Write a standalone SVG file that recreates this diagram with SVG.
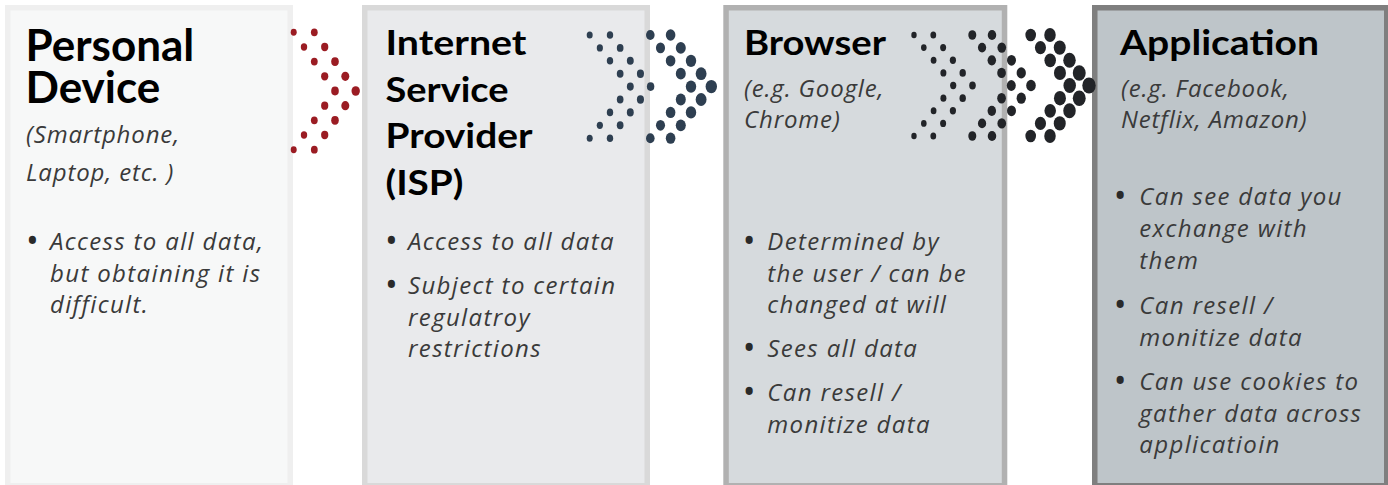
<svg xmlns="http://www.w3.org/2000/svg" width="1388" height="485" viewBox="0 0 1388 485">
<style>
.box{stroke-width:5.5}
.title{font-family:Lato,"Liberation Sans",sans-serif;font-weight:bold;fill:#000;font-size:35px}
.big{font-size:44px}
.body{font-family:"Open Sans","DejaVu Sans",sans-serif;font-style:italic;fill:#3a3a3a;font-size:24px;letter-spacing:1.35px}
.sub{letter-spacing:0.85px}
.bul{font-family:"Open Sans","DejaVu Sans",sans-serif;fill:#2a2a2a;font-size:34px}
.red{fill:#9b1c23}
.slate{fill:#2e3f51}
.blk{fill:#222428}
</style>
<rect width="1388" height="485" fill="#fff"/>
<g id="node-personal-device">
<rect class="box" x="7.75" y="7.75" width="282.5" height="478" fill="#f7f8f8" stroke="#efefef"/>
<text class="title big" x="25.5" y="61">Personal</text>
<text class="title big" x="25.5" y="103">Device</text>
<text class="body sub" x="26" y="143">(Smartphone,</text>
<text class="body sub" x="26" y="181">Laptop, etc. )</text>
<text class="bul" x="26" y="253">•</text>
<text class="body" x="50" y="250">Access to all data,</text>
<text class="body" x="50" y="282">but obtaining it is</text>
<text class="body" x="50" y="313">difficult.</text>
</g>
<g id="node-isp">
<rect class="box" x="364.75" y="7.75" width="282.5" height="478" fill="#e9eaec" stroke="#d9d9d9"/>
<text class="title" x="385.5" y="55" textLength="141" lengthAdjust="spacingAndGlyphs">Internet</text>
<text class="title" x="385.5" y="101.5" textLength="123" lengthAdjust="spacingAndGlyphs">Service</text>
<text class="title" x="385.5" y="148" textLength="147" lengthAdjust="spacingAndGlyphs">Provider</text>
<text class="title" x="385.5" y="194.5" textLength="78" lengthAdjust="spacingAndGlyphs">(ISP)</text>
<text class="bul" x="385" y="253">•</text>
<text class="body" x="408" y="250">Access to all data</text>
<text class="bul" x="385" y="296.5">•</text>
<text class="body" x="408" y="293.5">Subject to certain</text>
<text class="body" x="408" y="325.5">regulatroy</text>
<text class="body" x="408" y="357">restrictions</text>
</g>
<g id="node-browser">
<rect class="box" x="726.05" y="7.75" width="278.5" height="478" fill="#d6dadd" stroke="#b1b1b1"/>
<text class="title" x="744" y="55" textLength="142" lengthAdjust="spacingAndGlyphs">Browser</text>
<text class="body sub" x="744" y="96.7">(e.g. Google,</text>
<text class="body sub" x="744" y="127.5">Chrome)</text>
<text class="bul" x="742.7" y="253">•</text>
<text class="body" x="767.3" y="250">Determined by</text>
<text class="body" x="767.3" y="281.7">the user / can be</text>
<text class="body" x="767.3" y="313.3">changed at will</text>
<text class="bul" x="742.7" y="360.3">•</text>
<text class="body" x="767.3" y="357.3">Sees all data</text>
<text class="bul" x="742.7" y="403.7">•</text>
<text class="body" x="767.3" y="400.7">Can resell /</text>
<text class="body" x="767.3" y="432.7">monitize data</text>
</g>
<g id="node-application">
<rect class="box" x="1094.75" y="7.75" width="292" height="478" fill="#bec5c9" stroke="#7f7f7f"/>
<text class="title" x="1120" y="55" textLength="199" lengthAdjust="spacingAndGlyphs">Application</text>
<text class="body sub" x="1121" y="97">(e.g. Facebook,</text>
<text class="body sub" x="1121" y="128">Netflix, Amazon)</text>
<text class="bul" x="1113.7" y="208">•</text>
<text class="body" x="1139.3" y="205">Can see data you</text>
<text class="body" x="1139.3" y="236.7">exchange with</text>
<text class="body" x="1139.3" y="269">them</text>
<text class="bul" x="1113.7" y="317">•</text>
<text class="body" x="1139.3" y="314">Can resell /</text>
<text class="body" x="1139.3" y="345.7">monitize data</text>
<text class="bul" x="1113.7" y="393">•</text>
<text class="body" x="1139.3" y="390">Can use cookies to</text>
<text class="body" x="1139.3" y="421.7">gather data across</text>
<text class="body" x="1139.3" y="453.3">applicatioin</text>
</g>
<g id="connectors">
<g id="chevron-1" class="red">
<ellipse cx="293.7" cy="32.3" rx="3.0" ry="3.45"/><ellipse cx="314.3" cy="32.3" rx="3.4" ry="3.9"/>
<ellipse cx="304" cy="47" rx="3.2" ry="3.7"/><ellipse cx="324.7" cy="47" rx="3.6" ry="4.15"/>
<ellipse cx="314.3" cy="61.6" rx="3.4" ry="3.9"/><ellipse cx="335" cy="61.6" rx="3.8" ry="4.4"/>
<ellipse cx="324.7" cy="76.3" rx="3.6" ry="4.15"/><ellipse cx="345.3" cy="76.3" rx="4.0" ry="4.6"/>
<ellipse cx="335" cy="91" rx="3.8" ry="4.4"/><ellipse cx="355.7" cy="91" rx="4.2" ry="4.85"/>
<ellipse cx="324.7" cy="105.7" rx="3.6" ry="4.15"/><ellipse cx="345.3" cy="105.7" rx="4.0" ry="4.6"/>
<ellipse cx="314.3" cy="120.3" rx="3.4" ry="3.9"/><ellipse cx="335" cy="120.3" rx="3.8" ry="4.4"/>
<ellipse cx="304" cy="135" rx="3.2" ry="3.7"/><ellipse cx="324.7" cy="135" rx="3.6" ry="4.15"/>
<ellipse cx="293.7" cy="149.7" rx="3.0" ry="3.45"/><ellipse cx="314.3" cy="149.7" rx="3.4" ry="3.9"/>
</g>
<g id="chevron-2" class="slate">
<ellipse cx="589.7" cy="35" rx="3.0" ry="3.55"/><ellipse cx="610" cy="35" rx="3.2" ry="3.8"/>
<ellipse cx="599.85" cy="47.9" rx="3.1" ry="3.65"/><ellipse cx="620.15" cy="47.9" rx="3.35" ry="3.95"/>
<ellipse cx="610" cy="60.8" rx="3.2" ry="3.8"/><ellipse cx="630.3" cy="60.8" rx="3.45" ry="4.05"/>
<ellipse cx="620.15" cy="73.7" rx="3.35" ry="3.95"/><ellipse cx="640.45" cy="73.7" rx="3.55" ry="4.2"/>
<ellipse cx="630.3" cy="86.6" rx="3.45" ry="4.05"/><ellipse cx="650.6" cy="86.6" rx="3.7" ry="4.35"/>
<ellipse cx="620.15" cy="99.5" rx="3.35" ry="3.95"/><ellipse cx="640.45" cy="99.5" rx="3.55" ry="4.2"/>
<ellipse cx="610" cy="112.4" rx="3.2" ry="3.8"/><ellipse cx="630.3" cy="112.4" rx="3.45" ry="4.05"/>
<ellipse cx="599.85" cy="125.3" rx="3.1" ry="3.65"/><ellipse cx="620.15" cy="125.3" rx="3.35" ry="3.95"/>
<ellipse cx="589.7" cy="138.2" rx="3.0" ry="3.55"/><ellipse cx="610" cy="138.2" rx="3.2" ry="3.8"/>
<ellipse cx="650.3" cy="35" rx="4.3" ry="5.05"/><ellipse cx="670.6" cy="35" rx="4.8" ry="5.65"/>
<ellipse cx="660.5" cy="47.9" rx="4.55" ry="5.35"/><ellipse cx="680.8" cy="47.9" rx="5.0" ry="5.9"/>
<ellipse cx="670.6" cy="60.8" rx="4.8" ry="5.65"/><ellipse cx="691" cy="60.8" rx="5.2" ry="6.15"/>
<ellipse cx="680.8" cy="73.7" rx="5.0" ry="5.9"/><ellipse cx="701.1" cy="73.7" rx="5.45" ry="6.4"/>
<ellipse cx="691" cy="86.6" rx="5.2" ry="6.15"/><ellipse cx="711.3" cy="86.6" rx="5.7" ry="6.7"/>
<ellipse cx="680.8" cy="99.5" rx="5.0" ry="5.9"/><ellipse cx="701.1" cy="99.5" rx="5.45" ry="6.4"/>
<ellipse cx="670.6" cy="112.4" rx="4.8" ry="5.65"/><ellipse cx="691" cy="112.4" rx="5.2" ry="6.15"/>
<ellipse cx="660.5" cy="125.3" rx="4.55" ry="5.35"/><ellipse cx="680.8" cy="125.3" rx="5.0" ry="5.9"/>
<ellipse cx="650.3" cy="138.2" rx="4.3" ry="5.05"/><ellipse cx="670.6" cy="138.2" rx="4.8" ry="5.65"/>
</g>
<g id="chevron-3" class="blk">
<ellipse cx="914" cy="35" rx="2.7" ry="3.25"/><ellipse cx="933.3" cy="35" rx="2.9" ry="3.5"/>
<ellipse cx="923.8" cy="47.6" rx="2.8" ry="3.35"/><ellipse cx="943.1" cy="47.6" rx="3.0" ry="3.6"/>
<ellipse cx="933.6" cy="60.3" rx="2.9" ry="3.5"/><ellipse cx="952.9" cy="60.3" rx="3.1" ry="3.7"/>
<ellipse cx="943.4" cy="72.9" rx="3.0" ry="3.6"/><ellipse cx="962.7" cy="72.9" rx="3.2" ry="3.85"/>
<ellipse cx="953.2" cy="85.5" rx="3.1" ry="3.7"/><ellipse cx="972.5" cy="85.5" rx="3.3" ry="3.95"/>
<ellipse cx="943.4" cy="98.2" rx="3.0" ry="3.6"/><ellipse cx="962.7" cy="98.2" rx="3.2" ry="3.85"/>
<ellipse cx="933.6" cy="110.8" rx="2.9" ry="3.5"/><ellipse cx="952.9" cy="110.8" rx="3.1" ry="3.7"/>
<ellipse cx="923.8" cy="123.4" rx="2.8" ry="3.35"/><ellipse cx="943.1" cy="123.4" rx="3.0" ry="3.6"/>
<ellipse cx="914" cy="136" rx="2.7" ry="3.25"/><ellipse cx="933.3" cy="136" rx="2.9" ry="3.5"/>
<ellipse cx="972.3" cy="35" rx="4.0" ry="4.8"/><ellipse cx="992" cy="35" rx="4.25" ry="5.1"/>
<ellipse cx="982.05" cy="47.6" rx="4.1" ry="4.9"/><ellipse cx="1001.75" cy="47.6" rx="4.35" ry="5.2"/>
<ellipse cx="991.8" cy="60.3" rx="4.25" ry="5.1"/><ellipse cx="1011.5" cy="60.3" rx="4.5" ry="5.4"/>
<ellipse cx="1001.55" cy="72.9" rx="4.35" ry="5.2"/><ellipse cx="1021.25" cy="72.9" rx="4.65" ry="5.6"/>
<ellipse cx="1011.3" cy="85.5" rx="4.5" ry="5.4"/><ellipse cx="1031" cy="85.5" rx="4.8" ry="5.75"/>
<ellipse cx="1001.55" cy="98.2" rx="4.35" ry="5.2"/><ellipse cx="1021.25" cy="98.2" rx="4.65" ry="5.6"/>
<ellipse cx="991.8" cy="110.8" rx="4.25" ry="5.1"/><ellipse cx="1011.5" cy="110.8" rx="4.5" ry="5.4"/>
<ellipse cx="982.05" cy="123.4" rx="4.1" ry="4.9"/><ellipse cx="1001.75" cy="123.4" rx="4.35" ry="5.2"/>
<ellipse cx="972.3" cy="136" rx="4.0" ry="4.8"/><ellipse cx="992" cy="136" rx="4.25" ry="5.1"/>
<ellipse cx="1030.7" cy="35" rx="5.3" ry="6.35"/><ellipse cx="1050" cy="35" rx="5.75" ry="6.9"/>
<ellipse cx="1040.45" cy="47.6" rx="5.55" ry="6.65"/><ellipse cx="1059.75" cy="47.6" rx="6.0" ry="7.2"/>
<ellipse cx="1050.2" cy="60.3" rx="5.75" ry="6.9"/><ellipse cx="1069.5" cy="60.3" rx="6.25" ry="7.5"/>
<ellipse cx="1059.95" cy="72.9" rx="6.0" ry="7.2"/><ellipse cx="1079.25" cy="72.9" rx="6.45" ry="7.75"/>
<ellipse cx="1069.7" cy="85.5" rx="6.25" ry="7.5"/><ellipse cx="1089" cy="85.5" rx="6.7" ry="8.0"/>
<ellipse cx="1059.95" cy="98.2" rx="6.0" ry="7.2"/><ellipse cx="1079.25" cy="98.2" rx="6.45" ry="7.75"/>
<ellipse cx="1050.2" cy="110.8" rx="5.75" ry="6.9"/><ellipse cx="1069.5" cy="110.8" rx="6.25" ry="7.5"/>
<ellipse cx="1040.45" cy="123.4" rx="5.55" ry="6.65"/><ellipse cx="1059.75" cy="123.4" rx="6.0" ry="7.2"/>
<ellipse cx="1030.7" cy="136" rx="5.3" ry="6.35"/><ellipse cx="1050" cy="136" rx="5.75" ry="6.9"/>
</g>
</g>
</svg>
